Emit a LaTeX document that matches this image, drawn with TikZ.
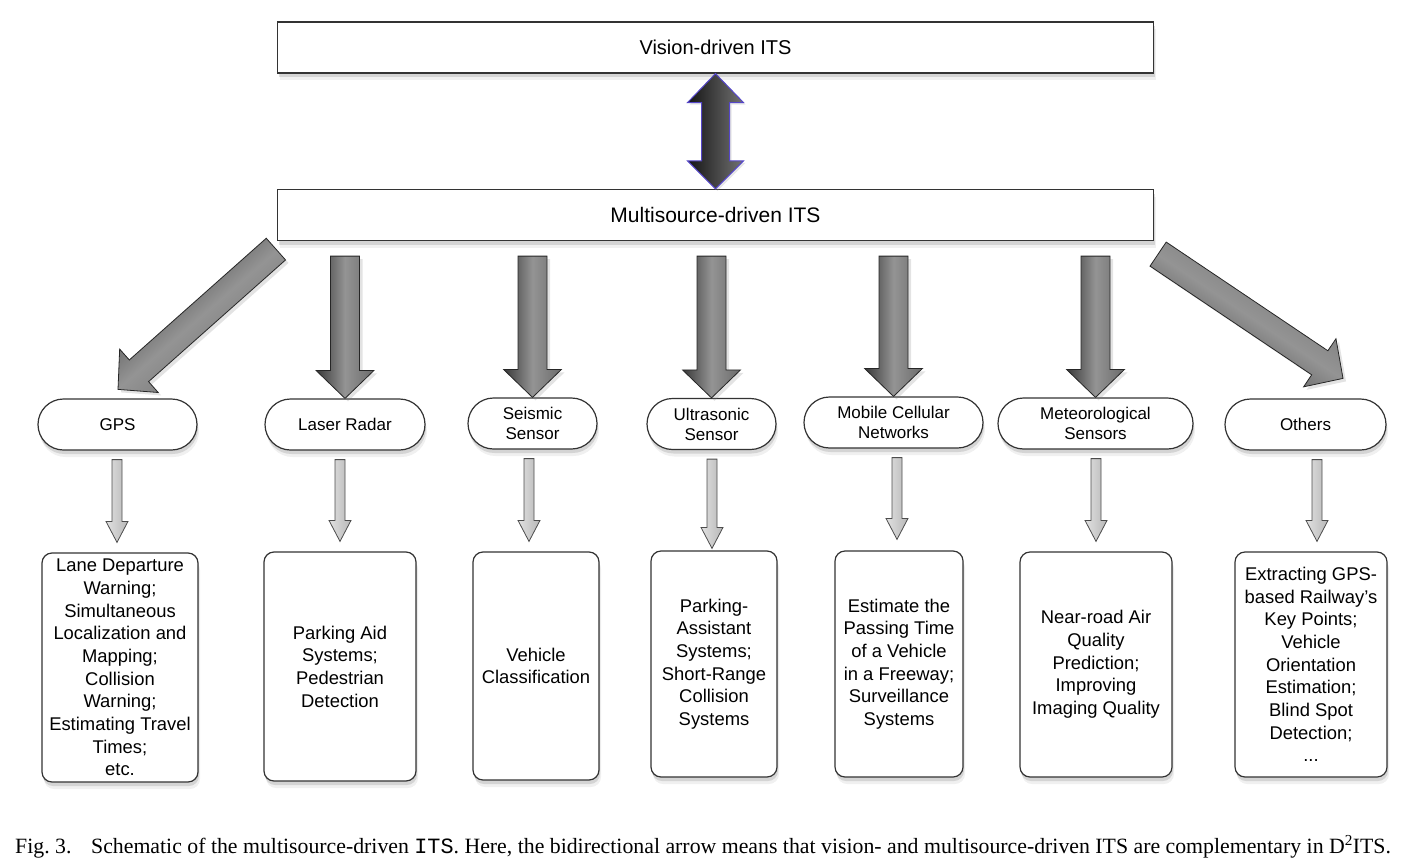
\documentclass[tikz,border=0pt]{standalone}
\usepackage{fontspec}
\setmainfont{Liberation Sans}
\newfontfamily\capfont{Liberation Serif}
\newfontfamily\capmono{Liberation Mono}
\usepackage{xcolor}
\usetikzlibrary{shapes.misc, shadows, calc, positioning}

\definecolor{twowayedge}{RGB}{85,70,200}

% fat arrow between two named points: style, tail, tip, shaft, head, head length
\newcommand{\fatarrow}[6]{%
  \path ($(#3)!#6!(#2)$) coordinate (fa-h);
  \path[#1] ($(#2)!#4!90:(#3)$) -- ($(fa-h)!#4!-90:(#2)$) -- ($(fa-h)!#5!-90:(#2)$)
    -- (#3) -- ($(fa-h)!#5!90:(#2)$) -- ($(fa-h)!#4!90:(#2)$) -- ($(#2)!#4!-90:(#3)$) -- cycle;
}

\tikzset{
  softshadow/.style={drop shadow={shadow xshift=2pt, shadow yshift=-7pt, opacity=0.12},
    drop shadow={shadow xshift=1pt, shadow yshift=-4pt, opacity=0.25}},
  itsbox/.style={draw=black!80, line width=1.2pt, fill=white, minimum width=876pt,
    minimum height=51pt, softshadow, font=\fontsize{20}{24}\selectfont},
  sensor/.style={rounded rectangle, draw=black!80, line width=1.2pt, fill=white,
    minimum height=51pt, inner sep=1pt, align=center, softshadow,
    font=\fontsize{17}{20}\selectfont},
  result/.style={rectangle, rounded corners=10pt, draw=black!80, line width=1.2pt,
    fill=white, align=center, inner sep=2pt, softshadow,
    font=\fontsize{18.4}{22.7}\selectfont},
  bigarrow/.style={draw=black!85, line width=0.8pt, left color=black!78,
    right color=black!58, middle color=black!42,
    drop shadow={shadow xshift=3pt, shadow yshift=-3pt, opacity=0.22}},
  smallarrow/.style={draw=black!70, line width=0.8pt, left color=black!12,
    right color=black!28},
  twoway/.style={draw=twowayedge, line width=1pt, left color=black!92,
    right color=black!55,
    drop shadow={shadow xshift=2pt, shadow yshift=-2pt, opacity=0.2}}
}

\begin{document}
\begin{tikzpicture}[x=1pt, y=-1pt]
\useasboundingbox (0,0) rectangle (1404,864);

% two top boxes
\node[itsbox] (vision) at (715.5,47.5) {Vision-driven ITS};
\node[itsbox, font=\fontsize{21}{25}\selectfont] (multi) at (715.5,215) {Multisource-driven ITS};

% bidirectional arrow
\path[twoway] (vision.south) -- ++(28,29) -- ++(-14,0) -- ($(multi.north)+(14,-28)$)
  -- ++(14,0) -- (multi.north) -- ++(-28,-28) -- ++(14,0)
  -- ($(vision.south)+(-14,29)$) -- ++(-14,0) -- cycle;

% sources
\node[sensor, minimum width=161pt] (gps) at (117.5,424.5) {GPS};
\node[sensor, minimum width=162pt] (laser) at (345,424.5) {Laser Radar};
\node[sensor, minimum width=131pt] (seismic) at (532.5,423.5) {Seismic\\Sensor};
\node[sensor, minimum width=131pt] (ultra) at (711.5,424) {Ultrasonic\\Sensor};
\node[sensor, minimum width=181pt] (mobile) at (893.5,422.5) {Mobile Cellular\\Networks};
\node[sensor, minimum width=197pt] (meteo) at (1095.5,423.5) {Meteorological\\Sensors};
\node[sensor, minimum width=163pt] (others) at (1305.5,424.5) {Others};

% applications
\node[result, minimum width=156pt, minimum height=229pt] (gpsuse) at (120,667.5)
  {Lane Departure\\Warning;\\Simultaneous\\Localization and\\Mapping;\\Collision\\Warning;\\Estimating Travel\\Times;\\etc.};
\node[result, minimum width=152pt, minimum height=229pt] (laseruse) at (340,666.5)
  {Parking Aid\\Systems;\\Pedestrian\\Detection};
\node[result, minimum width=126pt, minimum height=228pt] (seismicuse) at (536,666)
  {Vehicle\\Classification};
\node[result, minimum width=126pt, minimum height=226pt] (ultrause) at (714,664)
  {Parking-\\Assistant\\Systems;\\Short-Range\\Collision\\Systems};
\node[result, minimum width=128pt, minimum height=226pt] (mobileuse) at (899,664)
  {Estimate the\\Passing Time\\of a Vehicle\\in a Freeway;\\Surveillance\\Systems};
\node[result, minimum width=152pt, minimum height=225pt] (meteouse) at (1096,664.5)
  {Near-road Air\\Quality\\Prediction;\\Improving\\Imaging Quality};
\node[result, minimum width=152pt, minimum height=225pt] (othersuse) at (1311,664.5)
  {Extracting GPS-\\based Railway's\\Key Points;\\Vehicle\\Orientation\\Estimation;\\Blind Spot\\Detection;\\...};

% big arrows from the multisource box
\foreach \s in {laser, seismic, ultra, mobile, meteo} {
  \coordinate (\s-tail) at ($(\s.north |- multi.south)+(0,15)$);
  \fatarrow{bigarrow}{\s-tail}{\s.north}{14.5pt}{29pt}{28pt}
}
\coordinate (gps-tail) at ($(multi.south west)+(-1,8)$);
\coordinate (gps-tip) at ($(gps.north)+(0.5,-9)$);
\fatarrow{bigarrow, shading angle=41}{gps-tail}{gps-tip}{14.5pt}{29pt}{28pt}
\coordinate (others-tail) at ($(multi.south east)+(4,13)$);
\coordinate (others-tip) at ($(others.north)+(37.5,-20)$);
\fatarrow{bigarrow, shading angle=146}{others-tail}{others-tip}{14.5pt}{29pt}{28pt}

% small arrows to the applications
\foreach \s/\r/\x/\g in {gps/gpsuse/117/10, laser/laseruse/340/10, seismic/seismicuse/529/10,
    ultra/ultrause/712/2, mobile/mobileuse/897/11, meteo/meteouse/1096/10, others/othersuse/1317/10} {
  \coordinate (\s-from) at ($(\x,0 |- \s.south)+(0,9)$);
  \coordinate (\s-to) at ($(\x,0 |- \r.north)+(0,-\g)$);
  \fatarrow{smallarrow}{\s-from}{\s-to}{5pt}{11pt}{21pt}
}

% caption
\node[anchor=base west, inner sep=0pt, font=\capfont\fontsize{21.8}{26}\selectfont] (caption) at (15,853)
  {Fig.~3.\hspace{0.9em}Schematic of the multisource-driven {\capmono ITS}. Here, the bidirectional arrow means that vision- and multisource-driven ITS are complementary in D\textsuperscript{2}ITS.};
\end{tikzpicture}
\end{document}
